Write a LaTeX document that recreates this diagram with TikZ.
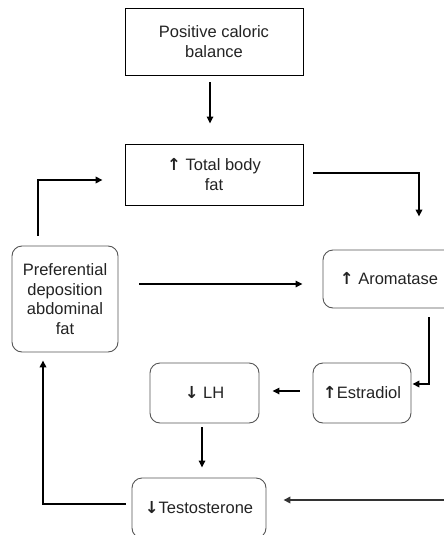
\documentclass[tikz,border=0pt]{standalone}
\usepackage{fontspec}
\setmainfont{Liberation Sans}
\newfontfamily\arrowfont{DejaVu Sans}
\usetikzlibrary{arrows.meta}
\definecolor{boxGrey}{RGB}{85,85,85}
\definecolor{textGrey}{RGB}{35,35,35}
\newcommand{\UpArr}{{\arrowfont\bfseries ↑}}
\newcommand{\DownArr}{{\arrowfont\bfseries ↓}}
\tikzset{
  plainbox/.style={draw=black,line width=0.9pt,inner sep=0pt,align=center,text=textGrey,font=\fontsize{16.5}{19.5}\selectfont},
  roundbox/.style={plainbox,draw=boxGrey,rounded corners=10pt},
  thinarrow/.style={line width=1.5pt,-{Triangle[length=7pt,width=6.5pt]}},
  thickarrow/.style={line width=2.5pt,-{Triangle[length=7pt,width=6.5pt]}}
}

\begin{document}
\begin{tikzpicture}[x=1pt,y=-1pt]
\useasboundingbox (0,0) rectangle (444,535);
\clip (0,0) rectangle (444,535);
\node[plainbox,minimum width=178pt,minimum height=67pt] (balance) at (214,41.5) {Positive caloric\\balance};
\node[plainbox,minimum width=178pt,minimum height=61pt] (bodyfat) at (214,174.5) {\UpArr{} Total body\\fat};
\node[roundbox,minimum width=106pt,minimum height=106pt] (abdominal) at (65,299) {Preferential\\deposition\\abdominal\\fat};
\node[roundbox,minimum width=132pt,minimum height=58pt] (aromatase) at (389,279) {\UpArr{} Aromatase};
\node[roundbox,minimum width=98pt,minimum height=60pt] (estradiol) at (362,393) {\UpArr{}Estradiol};
\node[roundbox,minimum width=109pt,minimum height=60pt] (lh) at (204.5,393) {\DownArr{} LH};
\node[roundbox,minimum width=134pt,minimum height=60pt] (testo) at (199,508) {\DownArr{}Testosterone};
\coordinate (edge) at (445,309);

\draw[thinarrow] ([xshift=-4pt,yshift=-7pt]balance.south) -- ([xshift=-4pt,yshift=20pt]bodyfat.north);
\draw[thickarrow] ([xshift=10pt,yshift=1.5pt]bodyfat.east) -| ([xshift=30pt,yshift=33pt]aromatase.north);
\draw[thickarrow] ([xshift=-27pt,yshift=10pt]abdominal.north) |- ([xshift=-22pt,yshift=-5.5pt]bodyfat.west);
\draw[thinarrow] ([xshift=21pt,yshift=-5pt]abdominal.east |- aromatase.west) -- ([xshift=-20pt,yshift=-5pt]aromatase.west);
\draw[thickarrow] ([xshift=40pt,yshift=-9pt]aromatase.south) |- ([xshift=1pt,yshift=9pt]estradiol.east);
\draw[thinarrow] ([xshift=-13pt,yshift=2pt]estradiol.west) -- ([xshift=13pt,yshift=2pt]lh.east);
\draw[thinarrow] ([xshift=-2.5pt,yshift=-4pt]lh.south) -- ([xshift=3pt,yshift=10pt]testo.north);
\draw[thickarrow,draw=black!80] (edge) |- ([xshift=17pt,yshift=8pt]testo.east);
\draw[thickarrow] ([xshift=-6pt,yshift=4pt]testo.west) -| ([xshift=-22pt,yshift=-8pt]abdominal.south);
\end{tikzpicture}
\end{document}
